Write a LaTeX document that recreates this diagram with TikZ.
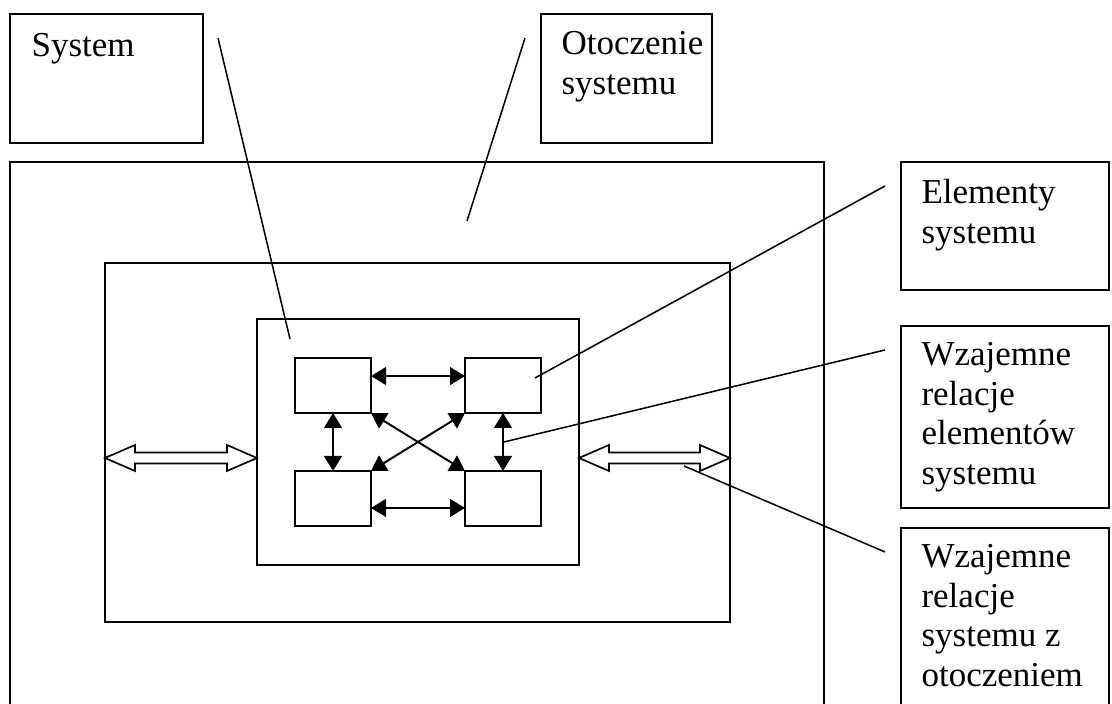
\documentclass[tikz,border=0pt]{standalone}
\usepackage{fontspec}
\setmainfont{Liberation Serif}
\usetikzlibrary{arrows.meta,calc}
\newcommand\pxu{0.36pt}

\begin{document}
\begin{tikzpicture}[x=0.36pt,y=-0.36pt,
    box/.style={draw,line width=0.6pt,inner sep=0pt,outer sep=0pt,anchor=north west},
    txt/.style={anchor=north west,inner sep=0pt,align=left,font=\fontsize{12.6}{14.2}\selectfont},
    rel/.style={line width=0.7pt,{Triangle[length=5.4pt,width=6.4pt]}-{Triangle[length=5.4pt,width=6.4pt]}},
    callout/.style={line width=0.55pt},
    fat/.style={draw,line width=0.6pt,fill=white,line join=miter}]
	\useasboundingbox (0,0) rectangle (1112,704);
	\clip (0,0) rectangle (1112,704);
	% label boxes
	\node[box,minimum width=193*\pxu,minimum height=129*\pxu] (sys) at (10,14) {};
	\node[box,minimum width=171*\pxu,minimum height=129*\pxu] (env) at (541,14) {};
	\node[box,minimum width=208*\pxu,minimum height=128*\pxu] (elem) at (901,162) {};
	\node[box,minimum width=208*\pxu,minimum height=182*\pxu] (relel) at (901,326) {};
	\node[box,minimum width=208*\pxu,minimum height=200*\pxu] (relenv) at (901,528) {};
	\node[txt] (sysl) at (31,33) {System};
	\node[txt] (envl) at (561,31) {Otoczenie\\systemu};
	\node[txt] (eleml) at (921,179) {Elementy\\systemu};
	\node[txt] (relell) at (921,342) {Wzajemne\\relacje\\elementów\\systemu};
	\node[txt] (relenvl) at (921,544) {Wzajemne\\relacje\\systemu z\\otoczeniem};
	% nested boxes
	\node[box,line width=0.8pt,minimum width=814*\pxu,minimum height=560*\pxu] (outer) at (10,162) {};
	\node[box,minimum width=625*\pxu,minimum height=359*\pxu] (mid) at (105,263) {};
	\node[box,minimum width=322*\pxu,minimum height=246*\pxu] (inner) at (257,319) {};
	\node[box,minimum width=76*\pxu,minimum height=55*\pxu] (tl) at (295,358) {};
	\node[box,minimum width=76*\pxu,minimum height=55*\pxu] (tr) at (465,358) {};
	\node[box,minimum width=76*\pxu,minimum height=55*\pxu] (bl) at (295,471) {};
	\node[box,minimum width=76*\pxu,minimum height=55*\pxu] (br) at (465,471) {};
	% relations between elements
	\draw[rel] ([yshift=3.4pt]tl.east) -- ([yshift=3.4pt]tr.west);
	\draw[rel] ([yshift=-3.4pt]bl.east) -- ([yshift=-3.4pt]br.west);
	\draw[rel] (tl.south) -- (bl.north);
	\draw[rel] (tr.south) -- (br.north);
	\draw[rel] (tl.south east) -- (br.north west);
	\draw[rel] (tr.south west) -- (bl.north east);
	% relations with the environment
	\path (mid.west |- 0,458) coordinate (fl1) (inner.west |- 0,458) coordinate (fl2);
	\path (inner.east |- 0,458) coordinate (fr1) (mid.east |- 0,458) coordinate (fr2);
	\draw[fat] (fl1) -- ++(30,-13) -- ++(0,7.5) -- ($(fl2)+(-30,-5.5)$) -- ++(0,-7.5) -- (fl2)
		-- ++(-30,13) -- ++(0,-7.5) -- ($(fl1)+(30,5.5)$) -- ++(0,7.5) -- cycle;
	\draw[fat] (fr1) -- ++(30,-13) -- ++(0,7.5) -- ($(fr2)+(-30,-5.5)$) -- ++(0,-7.5) -- (fr2)
		-- ++(-30,13) -- ++(0,-7.5) -- ($(fr1)+(30,5.5)$) -- ++(0,7.5) -- cycle;
	% callout lines
	\coordinate (c1a) at (218,38);  \coordinate (c1b) at (290,339);
	\coordinate (c2a) at (525,38);  \coordinate (c2b) at (467,221);
	\coordinate (c3a) at (885,186); \coordinate (c3b) at (535,378);
	\coordinate (c4a) at (885,350); \coordinate (c4b) at (504,442);
	\coordinate (c5a) at (885,552); \coordinate (c5b) at (684,466);
	\draw[callout] (c1a) -- (c1b);
	\draw[callout] (c2a) -- (c2b);
	\draw[callout] (c3a) -- (c3b);
	\draw[callout] (c4a) -- (c4b);
	\draw[callout] (c5a) -- (c5b);
\end{tikzpicture}
\end{document}
